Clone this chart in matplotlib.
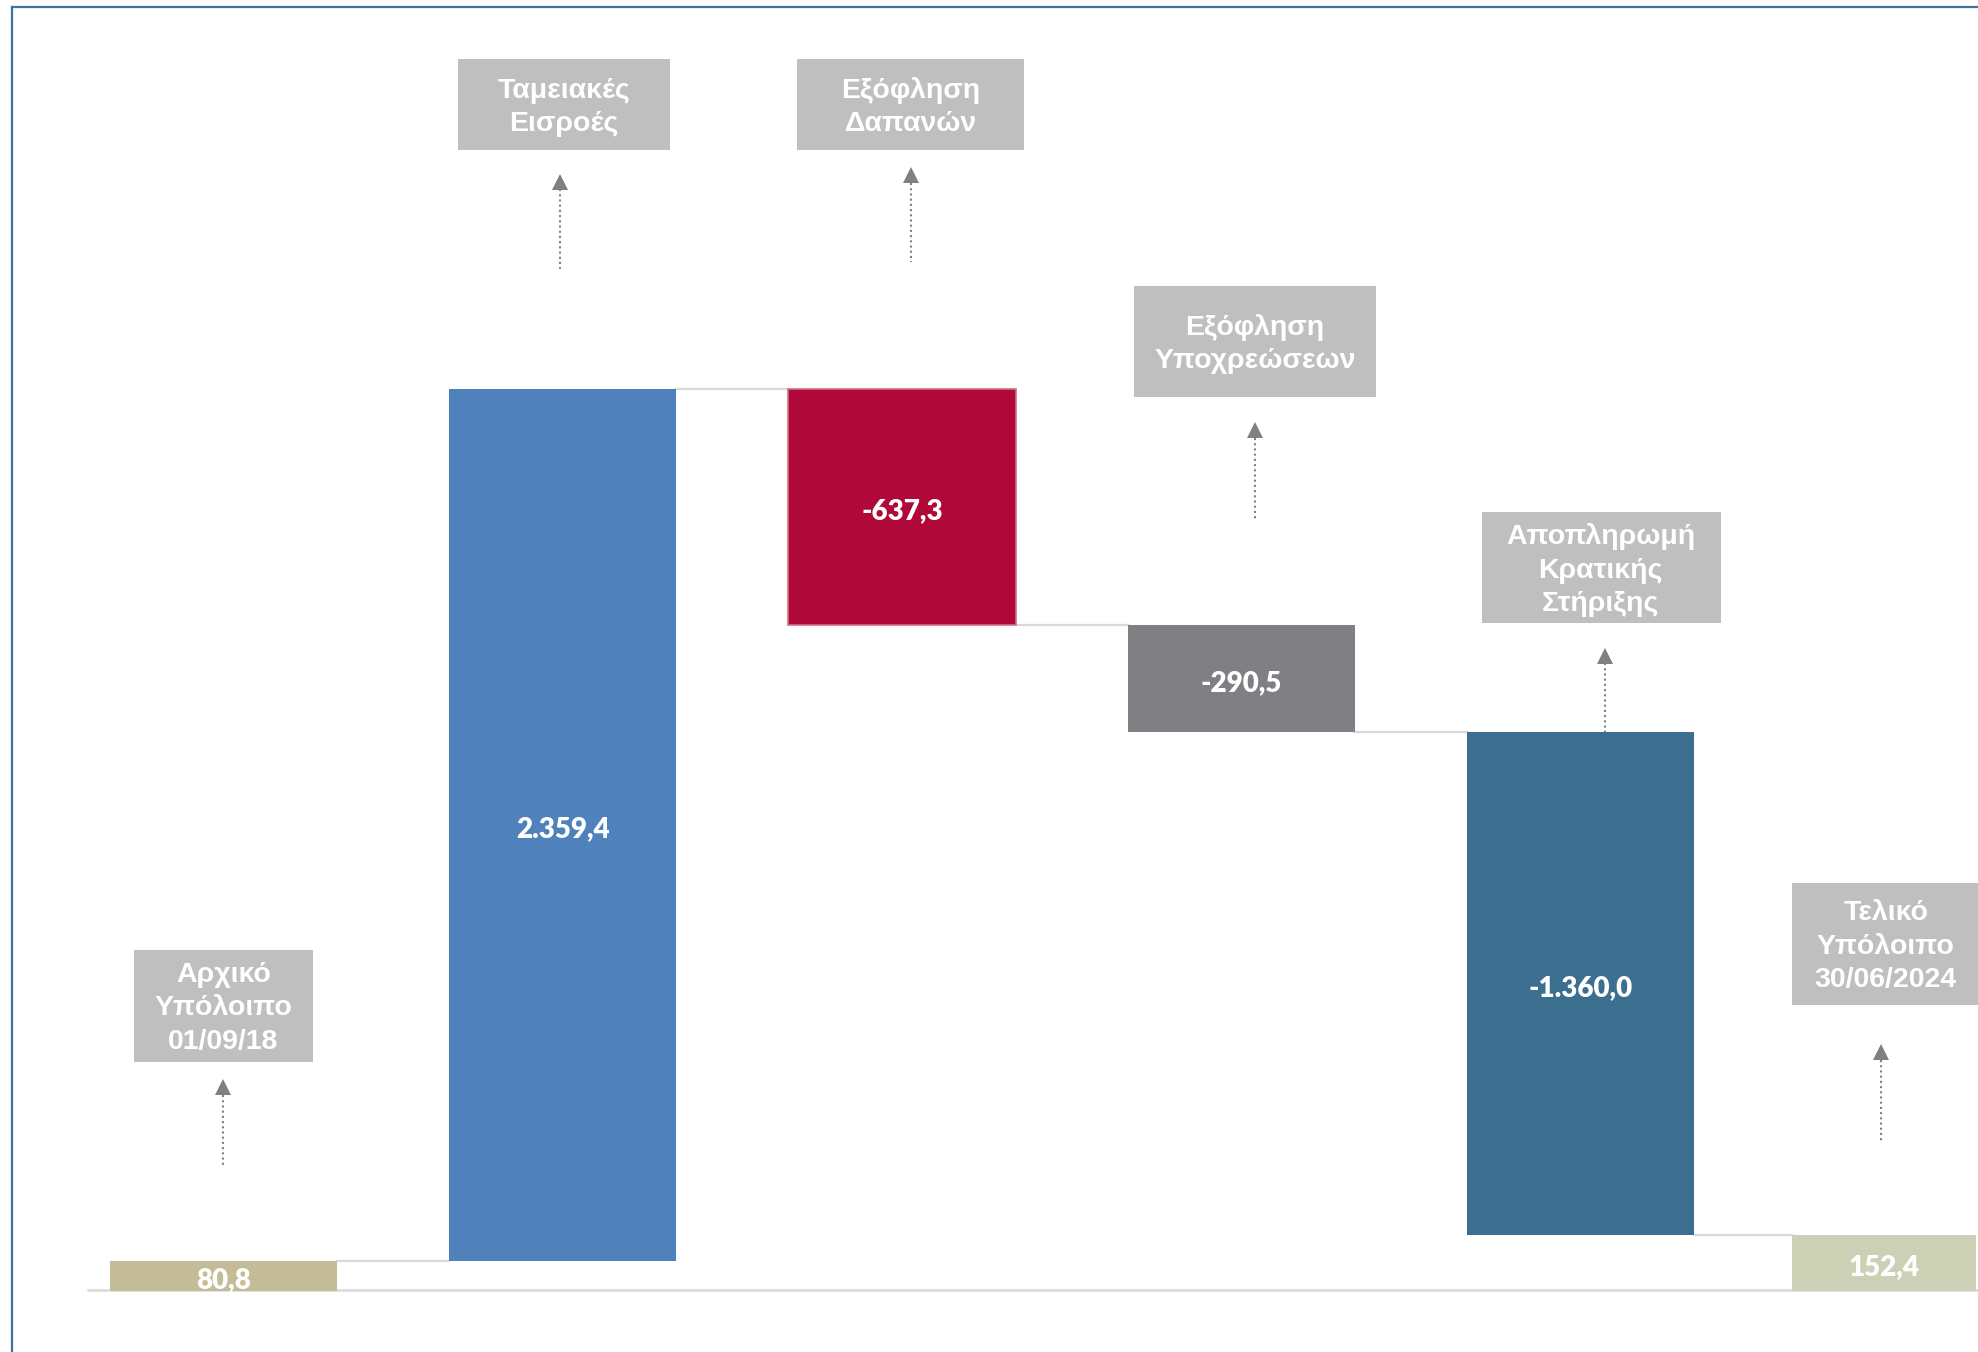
import numpy as np
import matplotlib
matplotlib.use('Agg')
import matplotlib.pyplot as plt
from matplotlib.patches import Rectangle

# data
categories = ['Αρχικό\nΥπόλοιπο\n01/09/18', 'Ταμειακές\nΕισροές', 'Εξόφληση\nΔαπανών',
              'Εξόφληση\nΥποχρεώσεων', 'Αποπληρωμή\nΚρατικής\nΣτήριξης',
              'Τελικό\nΥπόλοιπο\n30/06/2024']
values = [80.8, 2359.4, -637.3, -290.5, -1360.0, 152.4]
value_labels = ['80,8', '2.359,4', '-637,3', '-290,5', '-1.360,0', '152,4']
is_total = [True, False, False, False, False, True]
colors = ['#c4bc97', '#4f81bd', '#b00838', '#807f84', '#3c6e8f', '#ccd0b4']

W, H = 1978, 1352
fig = plt.figure(figsize=(W / 100, H / 100), dpi=100)
fig.patch.set_facecolor('white')

# main axes (data), full figure
ax = fig.add_axes([0, 0, 1, 1])
ax.set_xlim(-0.658, 5.171)
ax.set_ylim(-165, 3494)
ax.axis('off')

# waterfall bars
bottoms = []
tops = []
run = 0.0
for v, tot in zip(values, is_total):
    if tot:
        bottoms.append(0.0)
        tops.append(v)
        run = v
    else:
        new = run + v
        bottoms.append(min(run, new))
        tops.append(max(run, new))
        run = new
bottoms = np.array(bottoms)
heights = np.array(tops) - bottoms

x = np.array([0, 1, 2, 3, 4, 4.894])
widths = np.array([0.67, 0.67, 0.67, 0.67, 0.67, 0.54])
edges = ['none', 'none', '#d07080', 'none', 'none', 'none']
ax.bar(x, heights, bottom=bottoms, width=widths, color=colors,
       edgecolor=edges, linewidth=1.2, zorder=3)

# connector lines at running totals
levels = np.cumsum(values[:5])
for i in range(5):
    ax.plot([x[i] + widths[i] / 2, x[i + 1] - widths[i + 1] / 2], [levels[i], levels[i]],
            color='#d9d9d9', lw=1.6, zorder=2)

# baseline
ax.plot([-0.4, 5.2], [3, 3], color='#d9d9d9', lw=1.8, zorder=2)

# value labels
for xi, b, h, lab in zip(x, bottoms, heights, value_labels):
    ax.annotate(lab, (xi, b + h / 2), xytext=(0, -3), textcoords='offset points',
                ha='center', va='center', color='white',
                fontsize=20, fontweight='heavy', family=['Lato', 'DejaVu Sans'], zorder=4)

# overlay in pixel coordinates for frame, boxes and arrows
ov = fig.add_axes([0, 0, 1, 1])
ov.set_xlim(0, W)
ov.set_ylim(H, 0)
ov.axis('off')
ov.patch.set_alpha(0)

s = 1.2614
ov.plot([12, W], [7, 7], color='#41719c', lw=1.6)
ov.plot([12, 12], [7, H], color='#41719c', lw=1.6)

# boxes: left, right, top, bottom (display px of reference)
boxes = [(106, 248, 753, 842), (363, 531, 47, 119), (632, 812, 47, 119),
         (899, 1091, 227, 315), (1175, 1364, 406, 494), (1421, 1575, 700, 797)]
text_cx = [177, 447, 722, 995, 1269, 1495]
arrows = [(177, 856, 925), (444, 138, 213), (722, 133, 208),
          (995, 335, 413), (1272, 514, 580), (1491, 828, 905)]

for (l, r, t, b), cx, lab in zip(boxes, text_cx, categories):
    ov.add_patch(Rectangle((l * s, t * s), (r - l) * s, (b - t) * s,
                           facecolor='#bfbfbf', edgecolor='none', zorder=3))
    ov.text(cx * s, ((t + b) / 2 + 2) * s, lab, ha='center', va='center', color='white',
            fontsize=20.5, fontweight='bold', linespacing=1.36,
            family=['Liberation Sans Narrow', 'Liberation Sans', 'DejaVu Sans'], zorder=4)

for ax_x, tip, end in arrows:
    ov.plot([ax_x * s, ax_x * s], [(tip + 12) * s, end * s], color='#808080',
            lw=1.5, linestyle=(0, (1, 1.5)), zorder=3)
    ov.plot([ax_x * s], [(tip + 6) * s], marker='^', markersize=11,
            color='#808080', markeredgewidth=0, zorder=3)

fig.savefig('out.png', dpi=100, facecolor='white')
